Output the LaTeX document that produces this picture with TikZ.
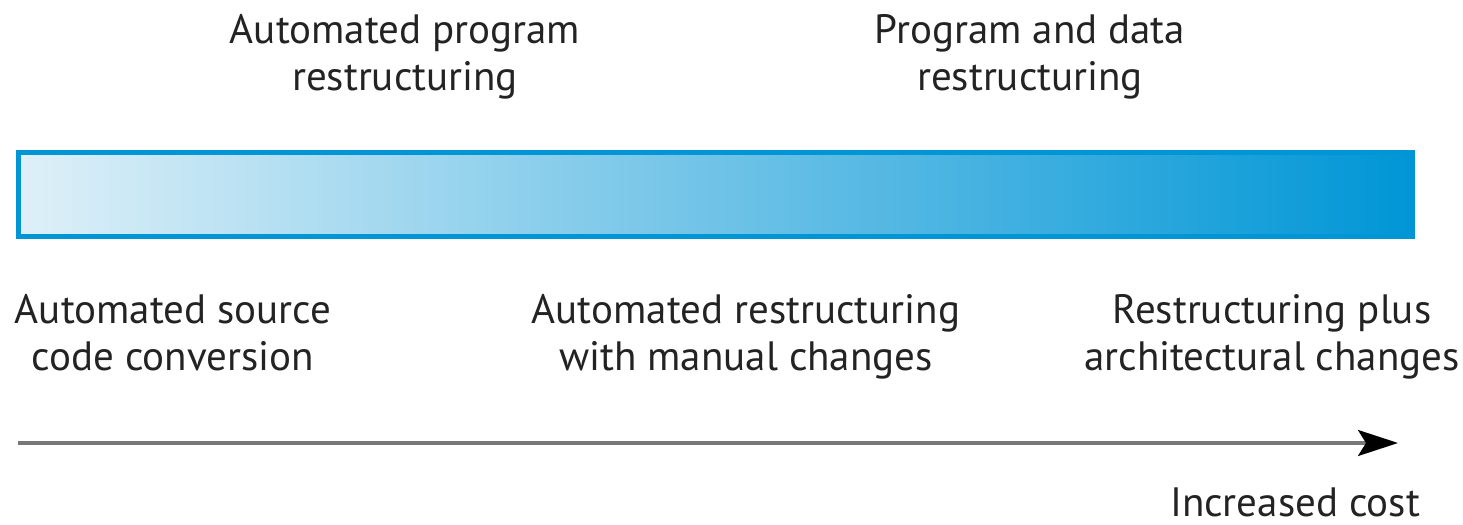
\documentclass[tikz,border=0pt]{standalone}
\usepackage{fontspec}
\setmainfont{PT Sans}
\usetikzlibrary{arrows.meta}
\definecolor{barblue}{RGB}{0,150,214}
\definecolor{barmid}{RGB}{92,187,226}
\definecolor{barlight}{RGB}{222,240,248}
\definecolor{txt}{RGB}{35,35,35}
\definecolor{arrowgray}{RGB}{120,120,120}
\begin{document}
\begin{tikzpicture}[x=0.5pt,y=-0.5pt,
  lbl/.style={font=\fontsize{20.5}{23.5}\selectfont, text=txt, align=center, inner sep=0pt, anchor=base},
  bar/.style={draw=barblue, line width=2.5pt, left color=barlight, middle color=barmid, right color=barblue},
  costarrow/.style={draw=arrowgray, line width=1.6pt, -{Stealth[length=20pt,width=13pt,inset=4pt,color=black]}}]
\useasboundingbox[fill=white] (0,0) rectangle (1463,525);
\node[bar, minimum width=1394.5*0.5pt, minimum height=84*0.5pt, inner sep=0pt, outer sep=0pt, anchor=north west] (bar) at (18,152.5) {};
\node[lbl] (apr) at (405,90) {Automated program\\restructuring};
\node[lbl] (pdr) at (1030,90) {Program and data\\restructuring};
\node[lbl] (asc) at (173,370) {Automated source\\code conversion};
\node[lbl] (arm) at (746,370) {Automated restructuring\\with manual changes};
\node[lbl] (rpa) at (1272,370) {Restructuring plus\\architectural changes};
\coordinate (astart) at (18,443);
\coordinate (aend) at (1398,443);
\draw[costarrow] (astart) -- (aend);
\node[lbl] (cost) at (1295,516) {Increased cost};
\end{tikzpicture}
\end{document}
